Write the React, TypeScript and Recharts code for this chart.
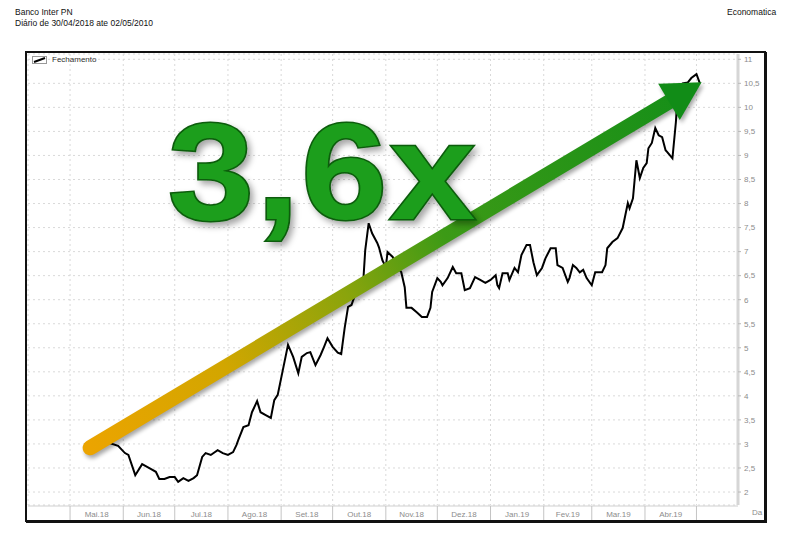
import React from "react";
import { LineChart, Line, XAxis, YAxis, CartesianGrid, ReferenceLine } from "recharts";

// dias contados a partir de 01/05/2018
const dias = [
    17, 20, 23, 28, 32, 34, 38, 42, 47, 50, 52, 55, 58, 61, 63, 66, 69, 72, 74, 77,
    79, 82, 86, 89, 92, 95, 97, 98, 101, 104, 106, 109, 111, 114, 117, 119, 121, 124, 127, 130,
    133, 135, 138, 140, 143, 146, 148, 150, 153, 156, 158, 160, 162, 164, 166, 168, 171, 172, 174, 176,
    179, 180, 182, 184, 185, 188, 190, 193, 195, 196, 199, 202, 205, 208, 210, 211, 214, 216, 217, 220,
    223, 225, 228, 230, 233, 236, 239, 242, 245, 248, 249, 250, 252, 255, 256, 259, 261, 263, 266, 268,
    270, 272, 275, 277, 280, 283, 284, 287, 290, 291, 293, 295, 297, 299, 301, 304, 306, 310, 312, 313,
    316, 319, 322, 325, 326, 328, 330, 332, 334, 336, 337, 339, 341, 343, 345, 347, 348, 351, 353, 354,
    357, 360, 362, 365, 367,
];

const fechamento = [
    2.96, 2.98, 3.02, 2.96, 2.81, 2.77, 2.35, 2.58, 2.48, 2.42, 2.27, 2.27, 2.31, 2.31, 2.21, 2.29, 2.23, 2.29, 2.35, 2.73,
    2.81, 2.77, 2.87, 2.81, 2.77, 2.83, 2.98, 3.08, 3.35, 3.39, 3.66, 3.89, 3.66, 3.6, 3.54, 3.91, 4.02, 4.54, 5.06, 4.81,
    4.47, 4.81, 4.89, 4.91, 4.64, 4.85, 5.02, 5.2, 5.02, 4.9, 4.87, 5.41, 5.85, 5.89, 6.1, 6.37, 6.47, 7.03, 7.59, 7.38,
    7.18, 7.09, 6.82, 6.68, 6.99, 6.89, 6.72, 6.57, 6.26, 5.83, 5.83, 5.74, 5.64, 5.64, 5.83, 6.16, 6.45, 6.37, 6.3, 6.45,
    6.68, 6.55, 6.55, 6.2, 6.24, 6.47, 6.41, 6.35, 6.41, 6.51, 6.3, 6.24, 6.55, 6.55, 6.41, 6.66, 6.57, 6.93, 7.14, 7.14,
    6.78, 6.51, 6.66, 6.86, 7.07, 7.07, 6.72, 6.66, 6.37, 6.45, 6.72, 6.66, 6.57, 6.62, 6.45, 6.3, 6.57, 6.57, 6.72, 7.07,
    7.2, 7.28, 7.49, 8.01, 7.9, 8.11, 8.9, 8.53, 8.74, 8.84, 9.15, 9.26, 9.57, 9.42, 9.38, 9.11, 9.07, 8.94, 9.69, 10.25,
    10.5, 10.52, 10.61, 10.69, 10.5,
];

// início de cada mês (dias desde 01/05/2018) e rótulos
const inicioMes = [0, 31, 61, 92, 123, 153, 184, 214, 245, 276, 304, 335, 365];
const rotulosMes = ["Mai.18", "Jun.18", "Jul.18", "Ago.18", "Set.18", "Out.18", "Nov.18", "Dez.18", "Jan.19", "Fev.19", "Mar.19", "Abr.19"];
const ticksY = [2, 2.5, 3, 3.5, 4, 4.5, 5, 5.5, 6, 6.5, 7, 7.5, 8, 8.5, 9, 9.5, 10, 10.5, 11];

// seta de tendência: inicio e fim (dia, preço)
const setaInicio = { x: 11.7, y: 2.92 };
const setaFim = { x: 368, y: 10.52 };

const dados = dias.map((d, i) => ({ dia: d, fechamento: fechamento[i] }));
const meioMes = rotulosMes.map((_, i) => (inicioMes[i] + inicioMes[i + 1]) / 2);

const fonte = "'Liberation Sans', Arial, sans-serif";
const tickFont = { fontSize: 8, fill: "#8c8c8c", fontFamily: fonte };

function SetaTendencia(props: any) {
    const { x1, y1, x2, y2 } = props;
    const dx = x2 - x1;
    const dy = y2 - y1;
    const len = Math.hypot(dx, dy);
    const ux = dx / len;
    const uy = dy / len;
    const px = -uy;
    const py = ux;
    const cabeca = 38;
    const meia = 21;
    const bx = x2 - ux * cabeca;
    const by = y2 - uy * cabeca;
    const ponta = `${x2},${y2} ${bx + px * meia},${by + py * meia} ${bx - px * meia},${by - py * meia}`;
    return (
        <g>
            <defs>
                <linearGradient id="gradSeta" gradientUnits="userSpaceOnUse" x1={x1} y1={y1} x2={x2} y2={y2}>
                    <stop offset="0%" stopColor="#eba400" />
                    <stop offset="22%" stopColor="#d2a600" />
                    <stop offset="42%" stopColor="#8aa40c" />
                    <stop offset="58%" stopColor="#3c9a16" />
                    <stop offset="100%" stopColor="#138e18" />
                </linearGradient>
                <filter id="sombraSeta" x="-10%" y="-10%" width="120%" height="120%">
                    <feGaussianBlur stdDeviation="2" />
                </filter>
            </defs>
            <g transform="translate(2,3)" filter="url(#sombraSeta)" opacity={0.35}>
                <line x1={x1} y1={y1} x2={bx} y2={by} stroke="#000" strokeWidth={15} strokeLinecap="round" />
                <polygon points={ponta} fill="#000" />
            </g>
            <line x1={x1} y1={y1} x2={bx + ux * 2} y2={by + uy * 2} stroke="url(#gradSeta)" strokeWidth={15} strokeLinecap="round" />
            <polygon points={ponta} fill="#118c17" />
        </g>
    );
}

function RotuloDa(props: any) {
    const vb = props.viewBox || {};
    return (
        <text x={vb.x + vb.width + 14} y={vb.y + 9} fontSize={8} fill="#8c8c8c" fontFamily={fonte}>
            Da
        </text>
    );
}

export default function App() {
    return (
        <div style={{ position: "absolute", left: 0, top: 0, width: 790, height: 534, background: "#fff", overflow: "hidden", fontFamily: fonte }}>
            <div style={{ position: "absolute", left: 15, top: 7, fontSize: 8.5, color: "#111", lineHeight: "11px" }}>
                <div>Banco Inter PN</div>
                <div>Diário de 30/04/2018 ate 02/05/2010</div>
            </div>
            <div style={{ position: "absolute", left: 727, top: 7, fontSize: 8.5, color: "#111", lineHeight: "11px" }}>Economatica</div>

            <div
                style={{
                    position: "absolute",
                    left: 25,
                    top: 51,
                    width: 741,
                    height: 471,
                    border: "2px solid #111",
                    boxSizing: "border-box",
                    boxShadow: "1px 1px 0 #111",
                }}
            />

            <div style={{ position: "absolute", left: 27, top: 53 }}>
                <LineChart width={737} height={467} data={dados} margin={{ top: 1, left: 1, right: 0, bottom: 0 }}>
                    <CartesianGrid xAxisId="m" stroke="#d9d9d9" strokeDasharray="2 3" />
                    <XAxis
                        xAxisId="l"
                        dataKey="dia"
                        type="number"
                        domain={[-24.5, 389.2]}
                        allowDataOverflow
                        ticks={meioMes}
                        interval={0}
                        height={1}
                        tickSize={0}
                        tickMargin={6}
                        tickLine={false}
                        axisLine={false}
                        tick={tickFont}
                        tickFormatter={(v: number) => rotulosMes[meioMes.indexOf(v)] ?? ""}
                    />
                    <XAxis
                        xAxisId="m"
                        dataKey="dia"
                        type="number"
                        domain={[-24.5, 389.2]}
                        allowDataOverflow
                        ticks={inicioMes}
                        interval={0}
                        height={14}
                        tickSize={14}
                        tickFormatter={() => ""}
                        tickLine={{ stroke: "#c4c4c4" }}
                        axisLine={{ stroke: "#cfcfcf" }}
                        label={<RotuloDa />}
                    />
                    <YAxis
                        orientation="right"
                        type="number"
                        domain={[1.73, 11.11]}
                        allowDataOverflow
                        ticks={ticksY}
                        interval={0}
                        width={26}
                        tickSize={3}
                        tickMargin={3}
                        tick={tickFont}
                        tickLine={{ stroke: "#b8b8b8" }}
                        axisLine={{ stroke: "#d6d6d6", strokeWidth: 3 }}
                        tickFormatter={(v: number) => String(v).replace(".", ",")}
                    />
                    <Line
                        xAxisId="m"
                        type="linear"
                        dataKey="fechamento"
                        stroke="#000"
                        strokeWidth={2}
                        dot={false}
                        isAnimationActive={false}
                    />
                    <ReferenceLine xAxisId="m" segment={[setaInicio, setaFim]} shape={SetaTendencia} ifOverflow="visible" />
                </LineChart>
            </div>

            <div style={{ position: "absolute", left: 32, top: 55, display: "flex", alignItems: "center", fontSize: 8, color: "#333" }}>
                <svg width={15} height={8} style={{ marginRight: 5 }}>
                    <rect x={0.5} y={0.5} width={14} height={7} fill="#fff" stroke="#999" />
                    <line x1={2} y1={6} x2={13} y2={2} stroke="#000" strokeWidth={2} />
                </svg>
                <span>Fechamento</span>
            </div>

            <svg width={790} height={534} style={{ position: "absolute", left: 0, top: 0, pointerEvents: "none" }}>
                <defs>
                    <filter id="sombraTexto" x="-10%" y="-10%" width="130%" height="130%">
                        <feDropShadow dx="3" dy="4" stdDeviation="3" floodColor="#000" floodOpacity="0.35" />
                    </filter>
                </defs>
                <g transform="translate(168,219) scale(1.12,1)">
                    <text
                        x={0}
                        y={0}
                        fontSize={138}
                        fontWeight="bold"
                        fontFamily={fonte}
                        letterSpacing={2}
                        fill="#1d9e1d"
                        stroke="#0b5c0b"
                        strokeWidth={3}
                        paintOrder="stroke"
                        filter="url(#sombraTexto)"
                    >
                        3,6x
                    </text>
                </g>
            </svg>
        </div>
    );
}
